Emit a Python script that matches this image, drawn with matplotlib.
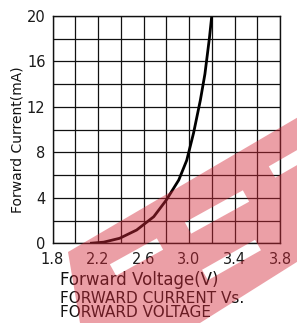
import numpy as np
import matplotlib
matplotlib.use("Agg")
import matplotlib.pyplot as plt
from matplotlib.path import Path
from matplotlib.patches import PathPatch

# ---- data ----
voltage = [2.13, 2.25, 2.39, 2.54, 2.69, 2.80, 2.91, 2.98, 3.04, 3.10, 3.14, 3.18, 3.20]
current = [0.0, 0.1, 0.44, 1.17, 2.34, 3.8, 5.57, 7.3, 9.7, 12.6, 14.9, 18.1, 20.0]
x_ticks = [1.8, 2.2, 2.6, 3.0, 3.4, 3.8]
x_tick_labels = ["1.8", "2.2", "2.6", "3.0", "3.4", "3.8"]
y_ticks = [0, 4, 8, 12, 16, 20]
y_tick_labels = ["0", "4", "8", "12", "16", "20"]
x_label = "Forward Voltage(V)"
y_label = "Forward Current(mA)"
caption1 = "FORWARD CURRENT Vs."
caption2 = "FORWARD VOLTAGE"

W, H = 297, 323
fig = plt.figure(figsize=(W / 100, H / 100), dpi=100)

def fx(x):
    return x / W

def fy(y):
    return 1 - y / H

left, right, top, bottom = 52.5, 280, 16, 243.3
ax = fig.add_axes([fx(left), fy(bottom), fx(right) - fx(left), fy(top) - fy(bottom)])
ax.set_xlim(1.8, 3.8)
ax.set_ylim(0, 20)
ax.set_xticks(np.arange(1.8, 3.81, 0.2), minor=True)
ax.set_yticks(np.arange(0, 20.1, 2), minor=True)
ax.set_xticks(x_ticks)
ax.set_xticklabels(x_tick_labels)
ax.set_yticks(y_ticks)
ax.set_yticklabels(y_tick_labels)
ax.grid(True, which="both", color="#111111", lw=0.9)
ax.set_axisbelow(True)
ax.tick_params(which="both", length=0)
ax.tick_params(axis="x", pad=6, labelsize=10.5, colors="#1a1a1a")
ax.tick_params(axis="y", pad=5, labelsize=10.5, colors="#1a1a1a")
for s in ax.spines.values():
    s.set_color("#111111")
    s.set_linewidth(1.0)

ax.plot(voltage, current, color="black", lw=2.0, solid_capstyle="butt")

fig.text(fx(18), fy(140), y_label, rotation=90, ha="center", va="center",
         fontsize=10, color="#111111")
fig.text(fx(60), fy(285), x_label, ha="left", va="baseline", fontsize=12,
         color="#111111")
fig.text(fx(60), fy(303), caption1, ha="left", va="baseline", fontsize=11,
         color="#111111")
fig.text(fx(60), fy(317), caption2, ha="left", va="baseline", fontsize=11,
         color="#111111")

# ---- watermark (pink logo) ----
def slot(p0, p1, t):
    (x0, y0), (x1, y1) = p0, p1
    d = np.array([x1 - x0, y1 - y0], float)
    d /= np.hypot(*d)
    n = np.array([-d[1], d[0]]) * t / 2
    return [np.array(p0) + n, np.array(p1) + n, np.array(p1) - n, np.array(p0) - n]

outer = [(68, 252), (300, 116), (300, 260), (200, 323), (80, 323)]
holes = [slot((113, 270), (160, 244), 13),
         slot((188, 228), (246, 196), 13),
         slot((272, 172), (305, 153), 13),
         slot((205, 275), (258, 245), 12)]

def ring(pts, ccw):
    pts = [tuple(p) for p in pts]
    area = 0
    for i in range(len(pts)):
        xa, ya = pts[i]
        xb, yb = pts[(i + 1) % len(pts)]
        area += xa * yb - xb * ya
    if (area > 0) != ccw:
        pts = pts[::-1]
    return pts

verts, codes = [], []
for pts, ccw in [(outer, True)] + [(h, False) for h in holes]:
    r = ring(pts, ccw)
    verts += [(fx(x), fy(y)) for x, y in r] + [(0, 0)]
    codes += [Path.MOVETO] + [Path.LINETO] * (len(r) - 1) + [Path.CLOSEPOLY]
wm = PathPatch(Path(verts, codes), transform=fig.transFigure, facecolor="#d42a3a",
               edgecolor="none", alpha=0.45, zorder=5)
fig.patches.append(wm)

fig.savefig("out.png", dpi=100, facecolor="white")
